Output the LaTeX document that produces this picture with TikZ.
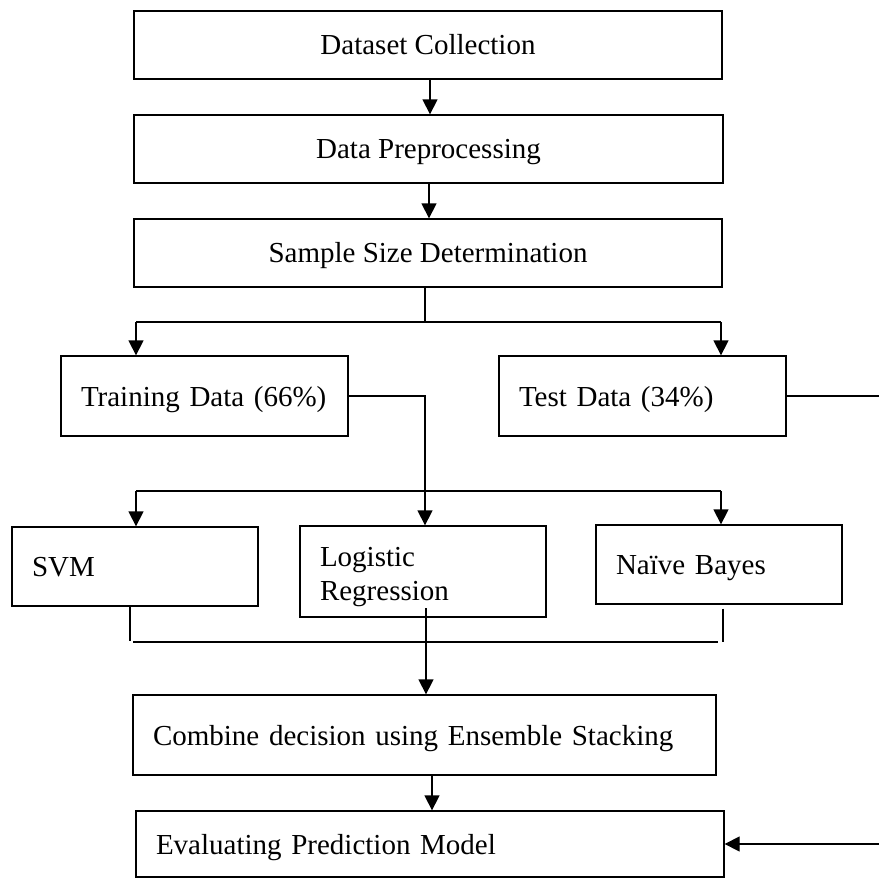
\documentclass[tikz,border=0pt]{standalone}
\usepackage{fontspec}
\setmainfont{Liberation Serif}
\usetikzlibrary{arrows.meta}
\begin{document}
\begin{tikzpicture}[x=1pt,y=-1pt,
  box/.style={draw, line width=1.3pt, inner ysep=0pt, font=\fontsize{29}{34}\selectfont},
  cbox/.style={box, inner xsep=0pt, text height=19pt, text depth=0pt},
  lbox/.style={box, inner xsep=20pt, align=left, text width=#1, text height=20pt, text depth=0pt},
  line/.style={line width=1.3pt},
  arr/.style={line, -{Triangle[length=15pt,width=15pt]}}]
\useasboundingbox (0,0) rectangle (879,878);
% top column
\node[cbox, minimum width=588pt, minimum height=68pt] (ds) at (428,45) {Dataset Collection};
\node[cbox, minimum width=589pt, minimum height=68pt] (pp) at (428.5,149) {Data Preprocessing};
\node[cbox, minimum width=588pt, minimum height=68pt] (ss) at (428,253) {Sample Size Determination};
% split
\node[lbox=247pt, minimum height=80pt] (tr) at (204.5,396) {Training Data (66\%)};
\node[lbox=247pt, minimum height=80pt] (te) at (642.5,396) {Test Data (34\%)};
% classifiers
\node[lbox=206pt, minimum height=79pt] (svm) at (135,566.5) {SVM};
\node[box, inner xsep=20pt, align=left, text width=206pt, text height=20pt, text depth=31pt, minimum height=91pt] (lr) at (423,571.5) {Logistic\\Regression};
\node[lbox=206pt, minimum height=79pt] (nb) at (719,564.5) {Naïve Bayes};
% bottom
\node[lbox=543pt, minimum height=80pt] (cb) at (424.5,735) {Combine decision using Ensemble Stacking};
\node[lbox=548pt, minimum height=66pt] (ev) at (430,844) {Evaluating Prediction Model};
% coordinates
\coordinate (j1) at (425,322);
\coordinate (jl) at (136,322);
\coordinate (jr) at (721,322);
\coordinate (k) at (425,0);
\coordinate (ml) at (136,491);
\coordinate (mr) at (721,491);
\coordinate (bl) at (133,642);
\coordinate (br) at (718,642);
\coordinate (rx) at (879,0);
\coordinate (a1) at (430,0);
\coordinate (a2) at (429,0);
\coordinate (a3) at (426,608);
\coordinate (a4) at (432,0);
% connectors
\draw[arr] (a1 |- ds.south) -- (a1 |- pp.north);
\draw[arr] (a2 |- pp.south) -- (a2 |- ss.north);
\draw[line] (ss.south -| j1) -- (j1);
\draw[line] (jl) -- (jr);
\draw[arr] (jl) -- (jl |- tr.north);
\draw[arr] (jr) -- (jr |- te.north);
\draw[arr] (tr.east) -| (k |- lr.north);
\draw[line] (ml) -- (mr);
\draw[arr] (ml) -- (ml |- svm.north);
\draw[arr] (mr) -- (mr |- nb.north);
\draw[line] ([xshift=-5pt]svm.south) -- ++(0,34);
\draw[line] ([xshift=4pt,yshift=-4pt]nb.south) -- ++(0,33);
\draw[line] (bl) -- (br);
\draw[arr] (a3) -- (a3 |- cb.north);
\draw[arr] (a4 |- cb.south) -- (a4 |- ev.north);
\draw[line] (te.east) -- (te.east -| rx);
\draw[arr] (ev.east -| rx) -- (ev.east);
\end{tikzpicture}
\end{document}
